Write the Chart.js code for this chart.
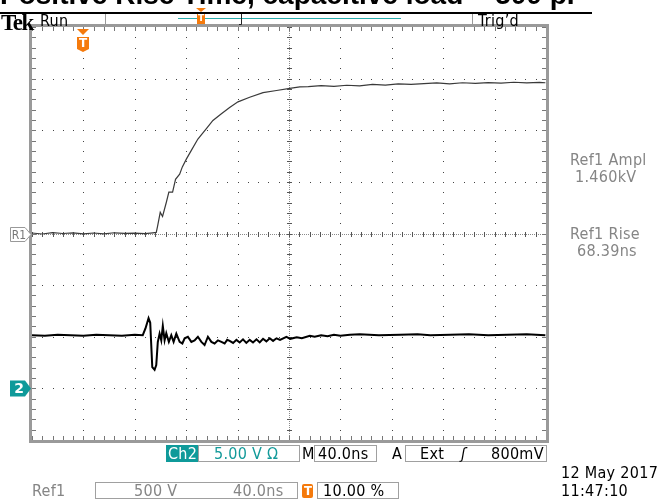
<!DOCTYPE html>
<html>
<head>
<meta charset="utf-8">
<script src="https://cdn.jsdelivr.net/npm/chart.js@4.4.0/dist/chart.umd.min.js"></script>
<style>
body{margin:0;background:#fff;}
#page{position:relative;width:663px;height:502px;overflow:hidden;background:#fff;
  font-family:"DejaVu Sans Condensed","DejaVu Sans",sans-serif;font-stretch:condensed;}
#scope{position:absolute;left:0;top:0;}
.t{position:absolute;white-space:pre;line-height:1;font-size:16px;letter-spacing:0.3px;}
.g{color:#858585;}
.box{position:absolute;border:1px solid #a0a0a0;box-sizing:border-box;background:#fff;}
#title{position:absolute;left:0;top:-19px;font-family:"Liberation Sans",Arial,sans-serif;font-weight:bold;
  font-size:28px;line-height:28px;white-space:pre;}
#uline{position:absolute;left:0;top:12px;width:592px;height:2px;background:#000;}
</style>
</head>
<body>
<div id="page">
<canvas id="scope" width="663" height="502"></canvas>

<div id="title">Positive Rise Time, capacitive load ~ 500 pF</div>
<div id="uline"></div>

<div class="t" style="left:1px;top:11px;font-family:'Liberation Serif',serif;font-weight:bold;font-size:23px;font-stretch:normal;letter-spacing:-1.5px">Tek</div>
<div class="t" style="left:40px;top:13px">Run</div>
<div style="position:absolute;left:105px;top:14px;width:1px;height:13px;background:#999"></div>
<div style="position:absolute;left:472px;top:14px;width:1px;height:13px;background:#999"></div>
<div class="t" style="left:478px;top:13px">Trig’d</div>

<div class="t g" id="amplLbl" style="left:570px;top:152px">Ref1 Ampl</div>
<div class="t g" id="amplVal" style="left:575px;top:169px"></div>
<div class="t g" id="riseLbl" style="left:570px;top:226px">Ref1 Rise</div>
<div class="t g" id="riseVal" style="left:577px;top:243px"></div>

<div style="position:absolute;left:166px;top:445px;width:32px;height:17px;background:#0f9a9a"></div>
<div class="t" style="left:168px;top:446px;color:#fff">Ch2</div>
<div class="box" style="left:198px;top:445px;width:102px;height:17px"></div>
<div class="t" id="ch2Scale" style="left:214px;top:446px;color:#139a9a"></div>
<div class="t" style="left:302px;top:446px">M</div>
<div class="box" style="left:314px;top:445px;width:63px;height:17px"></div>
<div class="t" id="timeBase" style="left:318px;top:446px"></div>
<div class="t" style="left:392px;top:446px">A</div>
<div class="box" style="left:405px;top:445px;width:142px;height:17px"></div>
<div class="t" style="left:420px;top:446px">Ext</div>
<div class="t" style="left:461px;top:446px;font-style:italic">ʃ</div>
<div class="t" id="trigLevel" style="left:491px;top:446px"></div>

<div class="t" style="left:561px;top:465px">12 May 2017</div>
<div class="t" style="left:561px;top:483px">11:47:10</div>

<div class="t g" style="left:32px;top:483px">Ref1</div>
<div class="box" style="left:95px;top:482px;width:203px;height:17px"></div>
<div class="t g" id="refScale" style="left:134px;top:483px"></div>
<div class="t g" id="refTime" style="left:233px;top:483px"></div>
<div style="position:absolute;left:302px;top:484px;width:11px;height:14px;background:#f57a0c;border-radius:2px"></div>
<div class="t" style="left:304px;top:484px;color:#fff;font-size:13px;font-weight:bold">T</div>
<div class="box" style="left:317px;top:482px;width:82px;height:17px"></div>
<div class="t" id="trigPos" style="left:323px;top:483px"></div>
</div>

<script>
// time axis in ns relative to trigger, 40 ns/div, trigger at 10 %
const timeMin = -40;
const timeMax = 360;
const nsPerDiv = 40;

// Ref1: 500 V/div, reference centred
const refVoltsPerDiv = 500;
const ref1Time = [-40, -32, -24, -16, -8, 0, 8, 16, 24, 32, 40, 48, 54, 56.7, 57.7, 59.8, 61.6, 64.5, 66.5, 69.4,
  71.7, 74.9, 77, 80.1, 84, 89.1, 95.7, 100.8, 107.4, 113.8, 120.3, 129.4, 139.8, 150.3, 160.6, 168.4,
  175, 185, 195, 205, 215, 225, 235, 245, 255, 265, 275, 285, 295, 305, 315, 325, 335, 345, 355, 359.5];
const ref1Volts = [5, -5, 8, 0, 6, -4, 5, -3, 7, 2, 4, -2, 6, 10, 70, 205, 165, 300, 400, 400,
  525, 575, 645, 720, 805, 915, 1015, 1095, 1160, 1220, 1275, 1320, 1365, 1385, 1405, 1420,
  1422, 1432, 1424, 1436, 1430, 1444, 1438, 1450, 1444, 1452, 1458, 1450, 1460, 1454, 1462, 1456, 1465, 1458, 1463, 1460];

// Ch2: 5 V/div, ground marker 3 div below centre
const ch2VoltsPerDiv = 5;
const ch2GroundDiv = -3;
const ch2Time = [-40, -30, -20, -10, 0, 10, 20, 30, 40, 46.2, 48.3, 50.7, 52, 53.6, 55.4, 56.7, 57.9, 59.3,
  60.6, 61.8, 63.2, 64.5, 66.5, 68.4, 70.2, 72.3, 74.9, 77, 78.8, 81.3, 84, 86.5, 89.1, 91.8, 94.3,
  96.9, 99.6, 102.1, 104.7, 107.4, 109.9, 111.9, 113.8, 116.5, 119.1, 121.6, 124.2, 126.8, 129.4, 132,
  134.7, 137.2, 139.8, 142.4, 145, 147.6, 150.3, 153, 158, 161, 166, 170, 176.2, 180, 185, 190, 195,
  200, 207.4, 215, 230, 246.4, 260, 270, 285.4, 300, 315, 330, 345, 359.5];
const ch2Volts = [5.15, 5.1, 5.2, 5.15, 5.1, 5.2, 5.15, 5.1, 5.2, 5.15, 5.8, 6.8, 6.35, 2.05, 1.8, 2.25, 4.5, 5.3,
  4.65, 6.05, 4.65, 5.35, 4.5, 5.15, 4.5, 5.3, 4.5, 4.35, 4.85, 5.0, 4.5, 4.65, 5.0, 4.5, 4.2,
  5.0, 4.5, 4.35, 4.65, 4.5, 4.35, 4.7, 4.6, 4.4, 4.7, 4.45, 4.75, 4.4, 4.7, 4.45,
  4.75, 4.45, 4.8, 4.55, 4.85, 4.6, 4.85, 4.7, 5.0, 4.8, 4.95, 4.85, 5.1, 5.0, 5.15, 5.05, 5.2,
  5.1, 5.2, 5.25, 5.15, 5.2, 5.25, 5.15, 5.2, 5.25, 5.15, 5.2, 5.25, 5.15];

// readouts
const ref1Ampl = '1.460kV';
const ref1Rise = '68.39ns';
const ch2ScaleText = '5.00 V Ω';
const timeBaseText = '40.0ns';
const trigLevelText = '800mV';
const refScaleText = '500 V';
const trigPosText = '10.00 %';

document.getElementById('amplVal').textContent = ref1Ampl;
document.getElementById('riseVal').textContent = ref1Rise;
document.getElementById('ch2Scale').textContent = ch2ScaleText;
document.getElementById('timeBase').textContent = timeBaseText;
document.getElementById('trigLevel').textContent = trigLevelText;
document.getElementById('refScale').textContent = refScaleText;
document.getElementById('refTime').textContent = timeBaseText;
document.getElementById('trigPos').textContent = trigPosText;

function pts(xs, ys) {
  return xs.map((x, i) => ({x: x, y: ys[i]}));
}

const graticule = {
  id: 'graticule',
  beforeDatasetsDraw(chart) {
    const ctx = chart.ctx;
    const xs = chart.scales.x, ys = chart.scales.yRef;
    const a = chart.chartArea;
    ctx.save();
    const minorX = [], minorY = [];
    for (let t = timeMin; t <= timeMax + 0.01; t += nsPerDiv / 5) minorX.push(Math.round(xs.getPixelForValue(t)));
    for (let v = -4 * refVoltsPerDiv; v <= 4 * refVoltsPerDiv + 0.01; v += refVoltsPerDiv / 5) minorY.push(Math.round(ys.getPixelForValue(v)));
    const cx = Math.round(xs.getPixelForValue(timeMin + 5 * nsPerDiv));
    const cy = Math.round(ys.getPixelForValue(0));
    // dotted division lines
    ctx.fillStyle = '#444';
    for (let i = 1; i < 10; i++) {
      if (i === 5) continue;
      const px = minorX[i * 5];
      minorY.forEach(py => ctx.fillRect(px, py, 1, 1));
    }
    for (let j = 1; j < 8; j++) {
      if (j === 4) continue;
      const py = minorY[j * 5];
      minorX.forEach(px => ctx.fillRect(px, py, 1, 1));
    }
    // centre lines
    ctx.fillStyle = '#8a8a8a';
    for (let x = a.left; x < a.right; x += 2) ctx.fillRect(x, cy, 1, 1);
    for (let y = a.top; y < a.bottom; y += 2) ctx.fillRect(cx, y, 1, 1);
    ctx.fillStyle = '#555';
    minorX.forEach(px => ctx.fillRect(px, cy - 2, 1, 5));
    minorY.forEach(py => ctx.fillRect(cx - 2, py, 5, 1));
    // frame ticks
    ctx.fillStyle = '#777';
    minorX.forEach(px => { ctx.fillRect(px, a.top, 1, 4); ctx.fillRect(px, a.bottom - 4, 1, 4); });
    minorY.forEach(py => { ctx.fillRect(a.left, py, 4, 1); ctx.fillRect(a.right - 4, py, 4, 1); });
    // frame
    ctx.strokeStyle = '#9a9a9a';
    ctx.lineWidth = 3;
    ctx.strokeRect(a.left - 1.5, a.top - 1.5, a.right - a.left + 3, a.bottom - a.top + 3);
    ctx.restore();
  },
  afterDraw(chart) {
    const ctx = chart.ctx;
    const xs = chart.scales.x, ys = chart.scales.yRef, y2 = chart.scales.yCh2;
    const a = chart.chartArea;
    ctx.save();
    // trigger position marker
    const tx = Math.round(xs.getPixelForValue(0));
    ctx.fillStyle = '#f57a0c';
    ctx.beginPath();
    ctx.moveTo(tx - 6, a.top + 2); ctx.lineTo(tx + 6, a.top + 2); ctx.lineTo(tx, a.top + 8); ctx.closePath(); ctx.fill();
    ctx.beginPath();
    ctx.moveTo(tx - 6, a.top + 10); ctx.lineTo(tx + 6, a.top + 10); ctx.lineTo(tx + 6, a.top + 22);
    ctx.lineTo(tx, a.top + 25); ctx.lineTo(tx - 6, a.top + 22); ctx.closePath(); ctx.fill();
    ctx.fillStyle = '#fff';
    ctx.font = 'bold 12px "DejaVu Sans"';
    ctx.textAlign = 'center'; ctx.textBaseline = 'middle';
    ctx.fillText('T', tx, a.top + 17);
    // R1 marker
    const ry = Math.round(ys.getPixelForValue(0)) + 0.5;
    ctx.beginPath();
    ctx.moveTo(10.5, ry - 7); ctx.lineTo(25, ry - 7); ctx.lineTo(31, ry); ctx.lineTo(25, ry + 7); ctx.lineTo(10.5, ry + 7); ctx.closePath();
    ctx.fillStyle = '#fff'; ctx.fill();
    ctx.strokeStyle = '#999'; ctx.lineWidth = 1; ctx.stroke();
    ctx.fillStyle = '#777';
    ctx.font = '12px "DejaVu Sans Condensed","DejaVu Sans"';
    ctx.fillText('R1', 19, ry + 1);
    // Ch2 ground marker
    const gy = Math.round(y2.getPixelForValue(0)) + 0.5;
    ctx.beginPath();
    ctx.moveTo(10, gy - 8); ctx.lineTo(25, gy - 8); ctx.lineTo(31, gy); ctx.lineTo(25, gy + 8); ctx.lineTo(10, gy + 8); ctx.closePath();
    ctx.fillStyle = '#0f9a9a'; ctx.fill();
    ctx.fillStyle = '#fff';
    ctx.font = 'bold 14px "DejaVu Sans"';
    ctx.fillText('2', 19, gy + 1);
    // record bar at the top
    ctx.strokeStyle = '#2aaeae'; ctx.lineWidth = 1;
    ctx.beginPath(); ctx.moveTo(178, 18.5); ctx.lineTo(401, 18.5); ctx.stroke();
    ctx.strokeStyle = '#222';
    ctx.beginPath(); ctx.moveTo(239, 12.5); ctx.lineTo(241.5, 12.5); ctx.lineTo(241.5, 24.5); ctx.lineTo(239, 24.5); ctx.stroke();
    ctx.fillStyle = '#f57a0c';
    ctx.beginPath(); ctx.moveTo(196, 8); ctx.lineTo(206, 8); ctx.lineTo(201, 12); ctx.closePath(); ctx.fill();
    ctx.fillRect(197, 13, 8, 11);
    ctx.fillStyle = '#fff';
    ctx.font = 'bold 9px "DejaVu Sans"';
    ctx.fillText('T', 201, 19);
    ctx.restore();
  }
};

new Chart(document.getElementById('scope'), {
  type: 'scatter',
  data: {
    datasets: [
      {label: 'Ref1', data: pts(ref1Time, ref1Volts), yAxisID: 'yRef', showLine: true,
        borderColor: '#3a3a3a', borderWidth: 1.2, pointRadius: 0, tension: 0},
      {label: 'Ch2', data: pts(ch2Time, ch2Volts), yAxisID: 'yCh2', showLine: true,
        borderColor: '#000', borderWidth: 2, pointRadius: 0, tension: 0}
    ]
  },
  options: {
    responsive: false,
    animation: false,
    devicePixelRatio: 1,
    layout: {padding: {left: 32, top: 27, right: 117, bottom: 62}},
    plugins: {legend: {display: false}, tooltip: {enabled: false}},
    scales: {
      x: {type: 'linear', display: false, min: timeMin, max: timeMax},
      yRef: {type: 'linear', display: false, min: -4 * refVoltsPerDiv, max: 4 * refVoltsPerDiv},
      yCh2: {type: 'linear', display: false,
        min: (-4 - ch2GroundDiv) * ch2VoltsPerDiv, max: (4 - ch2GroundDiv) * ch2VoltsPerDiv}
    }
  },
  plugins: [graticule]
});
</script>
</body>
</html>
